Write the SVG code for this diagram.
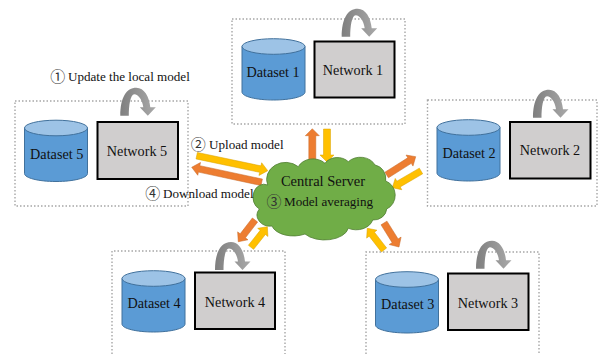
<svg xmlns="http://www.w3.org/2000/svg" width="598" height="354" viewBox="0 0 598 354">
<style>
text{font-family:"Liberation Serif","Noto Sans CJK SC",serif;fill:#111;}
.d{font-size:14.200px;text-anchor:middle;}
.l{font-size:13.100px;}
.c{font-family:"Noto Sans CJK SC","Liberation Serif",sans-serif;font-size:15px;text-anchor:middle;fill:#333;}
.box{fill:none;stroke:#a6a6a6;stroke-width:1.4;stroke-dasharray:1.5 2;}
.net{fill:#d0cece;stroke:#000;stroke-width:2;}
.o{fill:#ed7d31;stroke:#c96a29;stroke-width:.5;}
.y{fill:#ffc000;stroke:#d9a300;stroke-width:.5;}
</style>
<defs>
<linearGradient id="g" x1="0" x2="1" y1="0" y2="0"><stop offset="0" stop-color="#7f7f7f"/><stop offset="1" stop-color="#a9a9a9"/></linearGradient>
<g id="cyl">
<path d="M0,8V53.500C0,58 14,61.500 31.500,61.500S63,58 63,53.500V8Z" fill="#5b9bd5" stroke="#41719c"/>
<ellipse cx="31.500" cy="8" rx="31.500" ry="7.800" fill="#9dc3e6" stroke="#41719c"/>
</g>
<path id="loop" d="M0,0C0,-18 6,-28 16,-28C24,-28 29,-19 30,-8.500H35.500L27.500,0L19.500,-8.500H23C22,-16 18,-21.500 14,-21.500C10,-21.500 8.500,-10 8.500,0Z" fill="url(#g)"/>
</defs>
<g id="connectors">
<polygon class="o" transform="translate(312.300,160.700) rotate(-90)" points="0,-3.500 25,-3.500 25,-7 32,0 25,7 25,3.500 0,3.500"/>
<polygon class="y" transform="translate(327,129) rotate(90)" points="0,-3.500 26,-3.500 26,-7 33,0 26,7 26,3.500 0,3.500"/>
<polygon class="o" transform="translate(386.700,175) rotate(-32.300)" points="0,-3.300 27,-3.300 27,-6.500 34.300,0 27,6.500 27,3.300 0,3.300"/>
<polygon class="y" transform="translate(421,171) rotate(149.800)" points="0,-3.300 26,-3.300 26,-6.500 33.200,0 26,6.500 26,3.300 0,3.300"/>
<polygon class="o" transform="translate(384,223) rotate(58)" points="0,-3.500 21,-3.500 21,-7 28.300,0 21,7 21,3.500 0,3.500"/>
<polygon class="y" transform="translate(384,250) rotate(232.400)" points="0,-3.300 20,-3.300 20,-6.500 27.400,0 20,6.500 20,3.300 0,3.300"/>
<polygon class="o" transform="translate(255,220) rotate(127.600)" points="0,-3.300 20,-3.300 20,-6.500 27.400,0 20,6.500 20,3.300 0,3.300"/>
<polygon class="y" transform="translate(251,247.300) rotate(-51.600)" points="0,-3.300 19,-3.300 19,-6.500 26.300,0 19,6.500 19,3.300 0,3.300"/>
<polygon class="y" transform="translate(196.700,155.700) rotate(11.900)" points="0,-3.300 65,-3.300 65,-6.500 72.600,0 65,6.500 65,3.300 0,3.300"/>
<polygon class="o" transform="translate(261.700,182.300) rotate(192.100)" points="0,-3.300 64,-3.300 64,-6.500 71.600,0 64,6.500 64,3.300 0,3.300"/>
</g>
<g id="node1">
<rect class="box" x="232" y="19" width="173" height="105"/>
<use href="#cyl" transform="translate(242,38.500)"/>
<rect class="net" x="314.500" y="41.500" width="80" height="56"/>
<use href="#loop" transform="translate(341.700,36.700)"/>
<text class="d" x="273" y="77">Dataset 1</text>
<text class="d" x="353" y="75">Network 1</text>
</g>
<g id="node2">
<rect class="box" x="427.500" y="100" width="169.500" height="106"/>
<use href="#cyl" transform="translate(437,119.500)"/>
<rect class="net" x="510" y="122" width="80.500" height="56.500"/>
<use href="#loop" transform="translate(533,117.700)"/>
<text class="d" x="469" y="158">Dataset 2</text>
<text class="d" x="550" y="155">Network 2</text>
</g>
<g id="node3">
<path class="box" d="M366,354V252H539V354"/>
<use href="#cyl" transform="translate(375.500,271.500)"/>
<rect class="net" x="448" y="273.500" width="80.500" height="56.500"/>
<use href="#loop" transform="translate(476,268.700)"/>
<text class="d" x="407.700" y="309">Dataset 3</text>
<text class="d" x="488" y="307.700">Network 3</text>
</g>
<g id="node4">
<path class="box" d="M112,354V251H285V354"/>
<use href="#cyl" transform="translate(122,270.500)"/>
<rect class="net" x="195" y="272.500" width="80" height="56.500"/>
<use href="#loop" transform="translate(215,270)"/>
<text class="d" x="154" y="308">Dataset 4</text>
<text class="d" x="235" y="306.700">Network 4</text>
</g>
<g id="node5">
<rect class="box" x="15" y="101" width="173" height="105"/>
<use href="#cyl" transform="translate(24.500,120)"/>
<rect class="net" x="97.500" y="122" width="80.500" height="57"/>
<use href="#loop" transform="translate(120.300,115.700)"/>
<text class="d" x="56.700" y="158.700">Dataset 5</text>
<text class="d" x="137" y="156">Network 5</text>
</g>
<g id="server">
<path d="M267.700,185A19,17 0 0 1 298.300,166.700A16,13 0 0 1 325,163.300A14,11 0 0 1 348.300,161.700A16,13 0 0 1 375,165A13,14 0 0 1 385.700,181A14,15 0 0 1 386.700,209A13,12 0 0 1 372.700,220A17,13 0 0 1 348.300,228.300A24,14 0 0 1 305,234A22,13 0 0 1 272,226A13,11 0 0 1 259.300,209A11,13 0 0 1 267.700,185Z" fill="#70ad47" stroke="#507e32" stroke-width=".8"/>
<text x="323" y="185.700" font-size="14.500" text-anchor="middle">Central Server</text>
<text class="c" x="274" y="207">③</text>
<text class="l" x="284" y="206">Model averaging</text>
</g>
<g id="labels">
<text class="c" x="57.700" y="82.300">①</text>
<text class="l" x="68" y="80.700">Update the local model</text>
<text class="c" x="198.300" y="150.300">②</text>
<text class="l" x="209" y="149">Upload model</text>
<text class="c" x="152.700" y="199.200">④</text>
<text class="l" x="163" y="197.700">Download model</text>
</g>
</svg>
